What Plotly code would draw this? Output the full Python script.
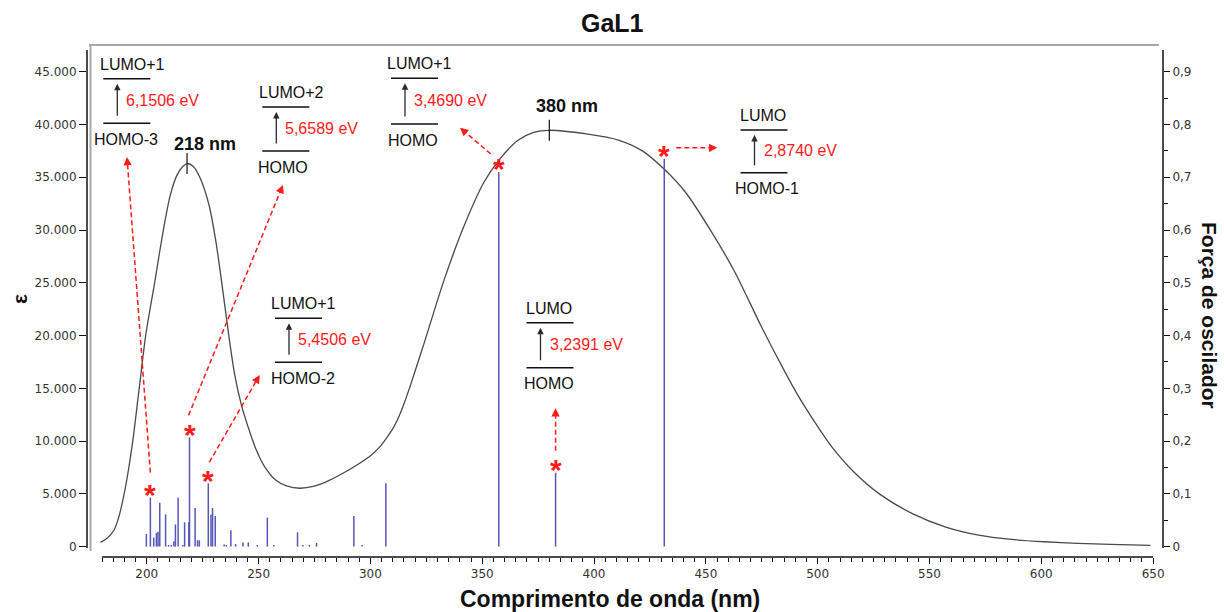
import plotly.graph_objects as go

# Simulated absorption spectrum: wavelength (nm) and molar absorptivity
wl_curve = [179.3, 182.2, 185.2, 187.2, 189.2, 191.2, 193.6, 196.6, 199.5, 203.5,
            207.4, 210.5, 213.5, 216.0, 218.0, 220.9, 223.9, 227.9, 230.9, 233.9,
            236.8, 239.3, 242.2, 245.2, 248.7, 252.6, 257.6, 262.5, 268.5, 274.4,
            280.4, 287.3, 295.2, 300.3, 304.2, 307.1, 310.1, 312.5, 315.3, 318.0,
            321.0, 324.2, 333.0, 341.9, 350.7, 357.4, 366.0, 373.0, 380.0, 396.5,
            411.2, 421.6, 431.2, 440.8, 452.6, 463.0, 474.7, 485.0, 491.0, 498.4,
            505.8, 516.1, 527.9, 542.6, 557.3, 572.0, 586.8, 601.5, 616.3, 631.0,
            648.8]
eps_curve = [400, 800, 1500, 2600, 4300, 6500, 9800, 15000, 20000, 25000,
             30000, 33300, 35200, 36000, 36300, 36000, 34900, 32300, 28900, 24400,
             19800, 16300, 13500, 11400, 9300, 7600, 6300, 5750, 5530, 5700,
             6160, 6900, 7900, 8650, 9450, 10250, 11200, 12200, 13700, 15350,
             17300, 19400, 25300, 30400, 34500, 36600, 38500, 39250, 39450, 39100,
             38500, 37500, 35800, 33600, 29800, 26000, 20900, 16700, 14400, 11900,
             9600, 7100, 4950, 3100, 1850, 1090, 680, 460, 300, 210,
             120]

# Calculated transitions: wavelength (nm) and oscillator strength
wl_bars = [199.8, 203.1, 204.3, 205.0, 205.8, 208.4, 209.7, 210.9, 212.1, 212.8,
           214.0, 216.1, 216.9, 218.8, 221.6, 222.7, 223.5, 228.7, 229.4, 230.6,
           234.6, 235.6, 237.6, 239.7, 243.0, 245.4, 249.4, 253.9, 256.8, 267.4,
           269.8, 272.7, 275.9, 292.6, 296.3, 306.9]
f_bars = [0.024, 0.017, 0.026, 0.028, 0.083, 0.061, 0.003, 0.003, 0.010, 0.042,
          0.093, 0.003, 0.046, 0.046, 0.073, 0.012, 0.012, 0.061, 0.073, 0.058,
          0.004, 0.003, 0.031, 0.005, 0.008, 0.008, 0.003, 0.055, 0.003, 0.027,
          0.003, 0.003, 0.007, 0.058, 0.003, 0.120]

# Highlighted transitions
hl_wl = [201.6, 219.1, 227.5, 357.4, 382.8, 431.4]
hl_f = [0.093, 0.207, 0.120, 0.710, 0.140, 0.735]
hl_from = ["HOMO-3", "HOMO", "HOMO-2", "HOMO", "HOMO", "HOMO-1"]
hl_to = ["LUMO+1", "LUMO+2", "LUMO+1", "LUMO+1", "LUMO", "LUMO"]
hl_ev = ["6,1506", "5,6589", "5,4506", "3,4690", "3,2391", "2,8740"]

# Band maxima
peak_wl = [218.0, 380.0]
peak_labels = ["218 nm", "380 nm"]

# Axis ticks
wl_ticks = [200, 250, 300, 350, 400, 450, 500, 550, 600, 650]
eps_ticks = [0, 5000, 10000, 15000, 20000, 25000, 30000, 35000, 40000, 45000]
f_ticks = [0, 0.1, 0.2, 0.3, 0.4, 0.5, 0.6, 0.7, 0.8, 0.9]
f_ticktext = ["0", "0,1", "0,2", "0,3", "0,4", "0,5", "0,6", "0,7", "0,8", "0,9"]

EPS_PER_F = 50000.0

# ---- frame geometry (pixels) ----
W, H = 1224, 612
L, R, T, B = 87, 1163, 45, 557
X0 = 200 - (146.8 - L) / 2.2362
X1 = 200 + (R - 146.8) / 2.2362
E0 = -(B - 546.6) / 10.553 * 1000
E1 = (546.6 - T) / 10.553 * 1000


def px_x(px):
    return (px - L) / (R - L)


def px_y(py):
    return (B - py) / (B - T)


def wl_to_px(wl):
    return L + (wl - X0) / (X1 - X0) * (R - L)


def f_to_py(f):
    return B - (f * EPS_PER_F - E0) / (E1 - E0) * (B - T)


fig = go.Figure()

# spectrum
fig.add_trace(go.Scatter(
    x=wl_curve, y=eps_curve, mode="lines",
    line=dict(color="#4a4a4a", width=1.3, shape="spline", smoothing=0.8),
    hoverinfo="skip", showlegend=False,
))

# stick spectrum
all_wl = wl_bars + hl_wl
all_f = f_bars + hl_f
sx, sy = [], []
for w, f in zip(all_wl, all_f):
    sx += [w, w, None]
    sy += [0, f, None]
fig.add_trace(go.Scatter(
    x=sx, y=sy, mode="lines", yaxis="y2",
    line=dict(color="#5656ba", width=1.5),
    hoverinfo="skip", showlegend=False,
))

shapes = []
annotations = []
RED = "#ff1a1a"

# stars and dashed arrows for highlighted transitions
arrow_geo = [
    ((0, -16), (127, 157)),
    ((-1, -13), (283, 185)),
    ((1, -12), (259.7, 375)),
    ((-8, -9), (460, 127.7)),
    ((0, -13), (None, 408.3)),
    ((12, -2), (717.3, None)),
]
for w, f, (off, tip) in zip(hl_wl, hl_f, arrow_geo):
    cx = wl_to_px(w)
    cy = f_to_py(f) - 9
    annotations.append(dict(
        x=px_x(cx), y=px_y(cy), xref="paper", yref="paper", text="<b>*</b>",
        showarrow=False, xanchor="center", yanchor="middle", yshift=-6,
        font=dict(family="Liberation Sans, Arial", size=30, color=RED),
    ))
    x_s, y_s = cx + off[0], cy + off[1]
    x_t = cx if tip[0] is None else tip[0]
    y_t = cy + off[1] if tip[1] is None else tip[1]
    dx, dy = x_t - x_s, y_t - y_s
    n = (dx * dx + dy * dy) ** 0.5
    ux, uy = dx / n, dy / n
    shapes.append(dict(
        type="line", xref="paper", yref="paper",
        x0=px_x(x_s), y0=px_y(y_s), x1=px_x(x_t - ux * 6), y1=px_y(y_t - uy * 6),
        line=dict(color=RED, width=1.5, dash="5px,3px"),
    ))
    annotations.append(dict(
        x=px_x(x_t), y=px_y(y_t), xref="paper", yref="paper", text="",
        showarrow=True, ax=-ux * 8, ay=-uy * 8,
        arrowhead=2, arrowsize=1.1, arrowwidth=1.5, arrowcolor=RED,
    ))

# orbital diagrams: line left x, upper line y, lower line y, upper label cx, lower label cx
diagram_geo = [
    (103.3, 78.7, 123.3, 132.7, 125.7),
    (262.3, 107.0, 151.0, 291.0, 283.3),
    (275.0, 318.3, 362.3, 303.3, 303.3),
    (391.0, 78.3, 124.0, 419.7, 413.0),
    (526.5, 322.7, 367.7, 549.0, 549.0),
    (740.5, 130.0, 172.7, 762.7, 766.7),
]
for up, lo, ev, (x0, ytop, ybot, ucx, lcx) in zip(hl_to, hl_from, hl_ev, diagram_geo):
    for yy in (ytop, ybot):
        shapes.append(dict(
            type="line", xref="paper", yref="paper",
            x0=px_x(x0), x1=px_x(x0 + 47), y0=px_y(yy), y1=px_y(yy),
            line=dict(color="#111111", width=1.5),
        ))
    ax_px = x0 + 14
    annotations.append(dict(
        x=px_x(ax_px), y=px_y(ytop + 5), xref="paper", yref="paper", text="",
        showarrow=True, ax=0, ay=(ybot - 6) - (ytop + 5),
        arrowhead=2, arrowsize=1.0, arrowwidth=1.3, arrowcolor="#2a2a2a",
    ))
    annotations.append(dict(
        x=px_x(x0 + 21), y=px_y((ytop + ybot) / 2 - 1), xref="paper", yref="paper",
        text=ev + " eV", showarrow=False, xanchor="left", yanchor="middle",
        font=dict(family="Liberation Sans, Arial", size=16, color=RED),
    ))
    annotations.append(dict(
        x=px_x(ucx), y=px_y(ytop - 14.5), xref="paper", yref="paper",
        text=up, showarrow=False, xanchor="center", yanchor="middle",
        font=dict(family="Liberation Sans, Arial", size=16, color="#111111"),
    ))
    annotations.append(dict(
        x=px_x(lcx), y=px_y(ybot + 16), xref="paper", yref="paper",
        text=lo, showarrow=False, xanchor="center", yanchor="middle",
        font=dict(family="Liberation Sans, Arial", size=16, color="#111111"),
    ))

# band maxima markers
peak_label_px = [(205.3, 144), (566.7, 106)]
for w, lab, (lx, ly) in zip(peak_wl, peak_labels, peak_label_px):
    val = eps_curve[wl_curve.index(w)]
    shapes.append(dict(
        type="line", xref="x", yref="y", x0=w, x1=w,
        ysizemode="pixel", yanchor=val, y0=-10.5, y1=10.5,
        line=dict(color="#111111", width=1.2),
    ))
    annotations.append(dict(
        x=px_x(lx), y=px_y(ly), xref="paper", yref="paper", text="<b>" + lab + "</b>",
        showarrow=False, xanchor="center", yanchor="middle",
        font=dict(family="Liberation Sans, Arial", size=18, color="#111111"),
    ))

# axis lines and frame
shapes += [
    dict(type="line", xref="paper", yref="paper", x0=px_x(89), x1=px_x(1159),
         y0=1, y1=1, line=dict(color="#a8a8a8", width=2)),
    dict(type="line", xref="paper", yref="paper", x0=px_x(90.5), x1=px_x(90.5),
         y0=px_y(551), y1=1, line=dict(color="#a8a8a8", width=2)),
    dict(type="line", xref="paper", yref="paper", x0=0, x1=0,
         y0=px_y(548), y1=px_y(50), line=dict(color="#111111", width=1.5)),
    dict(type="line", xref="paper", yref="paper", x0=1, x1=1,
         y0=px_y(548), y1=px_y(50), line=dict(color="#111111", width=1.5)),
    dict(type="line", xref="x", yref="paper", x0=180, x1=650,
         y0=0, y1=0, line=dict(color="#111111", width=1.5)),
]

# titles
annotations += [
    dict(x=px_x(612.5), y=px_y(23), xref="paper", yref="paper", text="<b>GaL1</b>",
         showarrow=False, xanchor="center", yanchor="middle",
         font=dict(family="Liberation Sans, Arial", size=25, color="#111111")),
    dict(x=px_x(610), y=px_y(599), xref="paper", yref="paper",
         text="<b>Comprimento de onda (nm)</b>", showarrow=False,
         xanchor="center", yanchor="middle",
         font=dict(family="Liberation Sans, Arial", size=23, color="#111111")),
    dict(x=px_x(19), y=px_y(299), xref="paper", yref="paper", text="<b>ε</b>",
         showarrow=False, xanchor="center", yanchor="middle", textangle=-90,
         font=dict(family="Liberation Sans, Arial", size=21, color="#111111")),
    dict(x=px_x(1210), y=px_y(315), xref="paper", yref="paper",
         text="<b>Força de oscilador</b>", showarrow=False,
         xanchor="center", yanchor="middle", textangle=90,
         font=dict(family="Liberation Sans, Arial", size=21, color="#111111")),
]

minor_wl = [v for v in range(180, 651, 5) if v not in wl_ticks]
minor_f = [0.05, 0.15, 0.25, 0.35, 0.45, 0.55, 0.65, 0.75, 0.85]
tick_font = dict(family="DejaVu Sans", size=12, color="#333333")

fig.update_layout(
    width=W, height=H,
    margin=dict(l=L, r=W - R, t=T, b=H - B, pad=0),
    paper_bgcolor="white", plot_bgcolor="white",
    separators=",.",
    showlegend=False,
    shapes=shapes, annotations=annotations,
    xaxis=dict(
        range=[X0, X1], showgrid=False, zeroline=False, showline=False,
        tickmode="array", tickvals=wl_ticks, ticks="outside", ticklen=6,
        tickwidth=1, tickcolor="#111111", tickfont=tick_font,
        minor=dict(tickmode="array", tickvals=minor_wl, ticks="outside",
                   ticklen=3.5, tickwidth=1, tickcolor="#111111", showgrid=False),
    ),
    yaxis=dict(
        range=[E0, E1], showgrid=False, zeroline=False, showline=False,
        tickmode="array", tickvals=eps_ticks, tickformat=",d",
        ticks="outside", ticklen=7, tickwidth=1, tickcolor="#111111",
        tickfont=tick_font,
    ),
    yaxis2=dict(
        range=[E0 / EPS_PER_F, E1 / EPS_PER_F], overlaying="y", side="right",
        showgrid=False, zeroline=False, showline=False,
        tickmode="array", tickvals=f_ticks, ticktext=f_ticktext,
        ticks="outside", ticklen=6, tickwidth=1, tickcolor="#111111",
        tickfont=tick_font,
        minor=dict(tickmode="array", tickvals=minor_f, ticks="outside",
                   ticklen=4, tickwidth=1, tickcolor="#111111", showgrid=False),
    ),
)

fig.write_html("out.html")
